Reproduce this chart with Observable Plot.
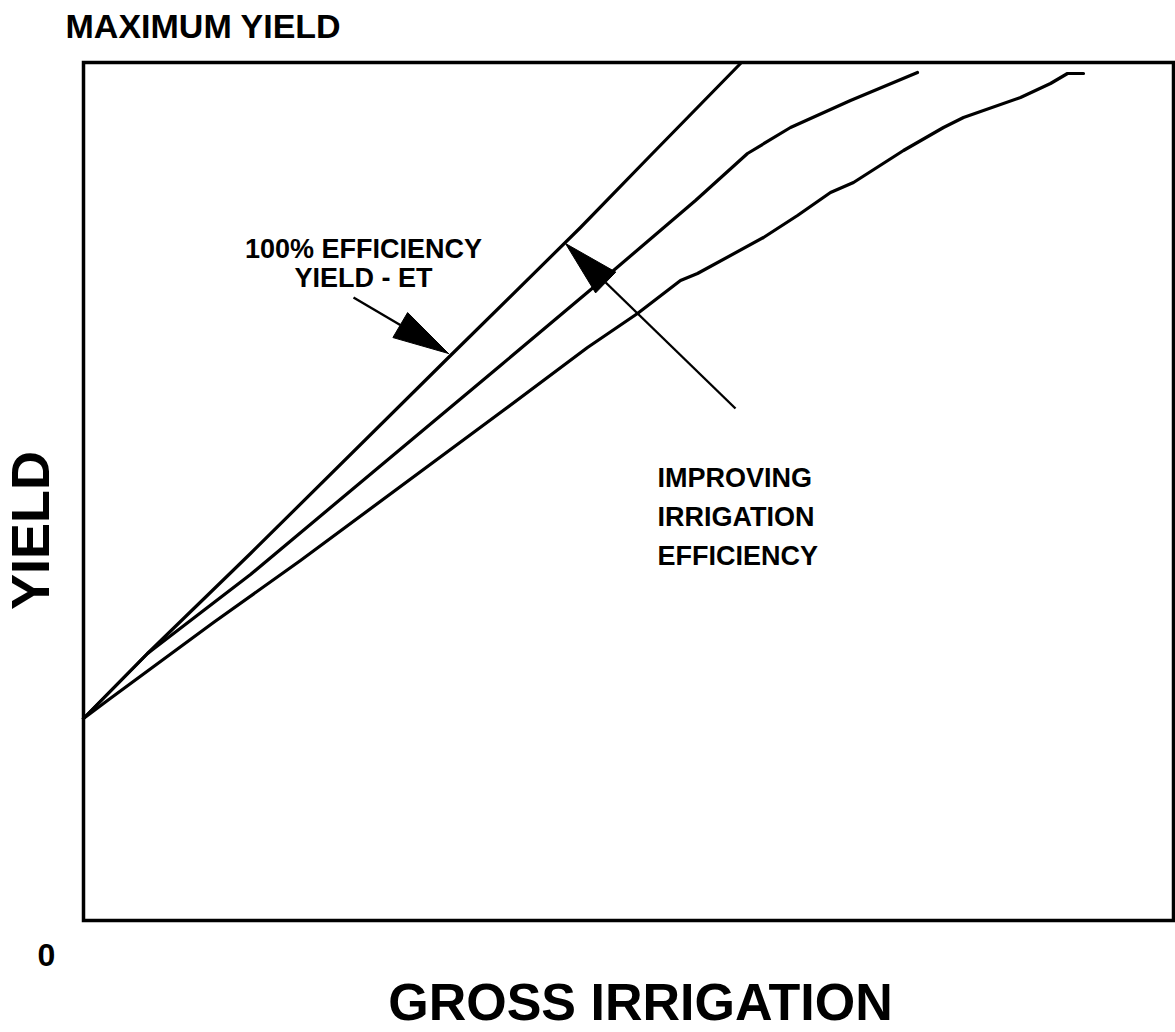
<!DOCTYPE html>
<html>
<head>
<meta charset="utf-8">
<script src="https://cdn.jsdelivr.net/npm/d3@7"></script>
<script src="https://cdn.jsdelivr.net/npm/@observablehq/plot@0.6"></script>
<style>
  html, body { margin: 0; padding: 0; background: #fff; }
  #chart svg { display: block; }
</style>
</head>
<body>
<div id="chart"></div>
<script>
// Schematic curves (gross irrigation on x, yield on y, arbitrary units)
const topX = [0, 64, 167, 364, 497, 567, 657];
const topY = [202, 267, 367, 562, 693, 765, 857];

const midX = [0, 64, 167, 417, 530, 612, 664, 707, 767, 834];
const midY = [202, 267, 346, 555, 650, 720, 767, 793, 820, 848];

const lowX = [0, 24, 130, 217, 417, 504, 554, 597, 614, 680, 714, 747, 770, 820, 860, 880, 937, 967, 984, 1000];
const lowY = [202, 220, 298, 360, 508, 573, 607, 640, 647, 683, 705, 728, 738, 770, 793, 803, 823, 837, 847, 847];

// Annotation arrows: tail -> tip
const arrowTailX = [270, 652];
const arrowTailY = [623, 512];
const arrowTipX = [365, 482];
const arrowTipY = [567, 677];

// Texts
const titleText = "MAXIMUM YIELD";
const xLabel = "GROSS IRRIGATION";
const yLabel = "YIELD";
const zeroLabel = "0";
const note1 = "100% EFFICIENCY\nYIELD - ET";
const note1X = [280];
const note1Y = [634];
const note2 = "IMPROVING\nIRRIGATION\nEFFICIENCY";
const note2X = [574];
const note2Y = [356];

const series = [
  ...topX.map((x, i) => ({series: "100%", x, y: topY[i]})),
  ...midX.map((x, i) => ({series: "mid", x, y: midY[i]})),
  ...lowX.map((x, i) => ({series: "low", x, y: lowY[i]}))
];

const headLen = 56, headW = 29;
const arrows = arrowTailX.map((x1, i) => {
  const x2 = arrowTipX[i], y2 = arrowTipY[i], y1 = arrowTailY[i];
  const dx = x2 - x1, dy = y2 - y1, len = Math.hypot(dx, dy);
  const ux = dx / len, uy = dy / len;
  const bx = x2 - ux * headLen, by = y2 - uy * headLen;
  return {x1, y1, x2, y2, bx, by, ux, uy, id: i};
});
const heads = arrows.flatMap(a => [
  {id: a.id, x: a.x2, y: a.y2},
  {id: a.id, x: a.bx - a.uy * headW / 2, y: a.by + a.ux * headW / 2},
  {id: a.id, x: a.bx + a.uy * headW / 2, y: a.by - a.ux * headW / 2},
  {id: a.id, x: a.x2, y: a.y2}
]);

const font = "'Liberation Sans', Arial, Helvetica, sans-serif";

const chart = Plot.plot({
  width: 1175,
  height: 1032,
  marginLeft: 83,
  marginRight: 2,
  marginTop: 62,
  marginBottom: 112,
  x: {domain: [0, 1090], axis: null},
  y: {domain: [0, 858], axis: null},
  style: {fontFamily: font, background: "#fff", color: "#000"},
  marks: [
    Plot.line(series, {x: "x", y: "y", z: "series", stroke: "#000", strokeWidth: 3.2, strokeLinecap: "round", strokeLinejoin: "round"}),
    Plot.link(arrows, {x1: "x1", y1: "y1", x2: "bx", y2: "by", stroke: "#000", strokeWidth: 2.4}),
    Plot.line(heads, {x: "x", y: "y", z: "id", fill: "#000", stroke: "#000", strokeWidth: 1, strokeLinejoin: "miter"}),
    Plot.frame({stroke: "#000", strokeWidth: 3.5}),
    Plot.text([note1], {x: note1X, y: note1Y, text: d => d, textAnchor: "middle", lineAnchor: "bottom", fontSize: 27, fontWeight: "bold", lineHeight: 1.07}),
    Plot.text([note2], {x: note2X, y: note2Y, text: d => d, textAnchor: "start", lineAnchor: "bottom", fontSize: 27, fontWeight: "bold", lineHeight: 1.43}),
    Plot.text([titleText], {frameAnchor: "top-left", text: d => d, textAnchor: "start", lineAnchor: "bottom", dx: -18, dy: -25, fontSize: 34, fontWeight: "bold"}),
    Plot.text([zeroLabel], {frameAnchor: "bottom-left", text: d => d, textAnchor: "middle", lineAnchor: "bottom", dx: -37, dy: 45, fontSize: 32, fontWeight: "bold"}),
    Plot.text([xLabel], {frameAnchor: "bottom", text: d => d, textAnchor: "middle", lineAnchor: "bottom", dx: 12, dy: 99, fontSize: 52, fontWeight: "bold"}),
    Plot.text([yLabel], {frameAnchor: "left", text: d => d, textAnchor: "middle", lineAnchor: "middle", rotate: -90, dx: -52, dy: 39, fontSize: 54, fontWeight: "bold"})
  ]
});
document.getElementById("chart").appendChild(chart);
</script>
</body>
</html>
